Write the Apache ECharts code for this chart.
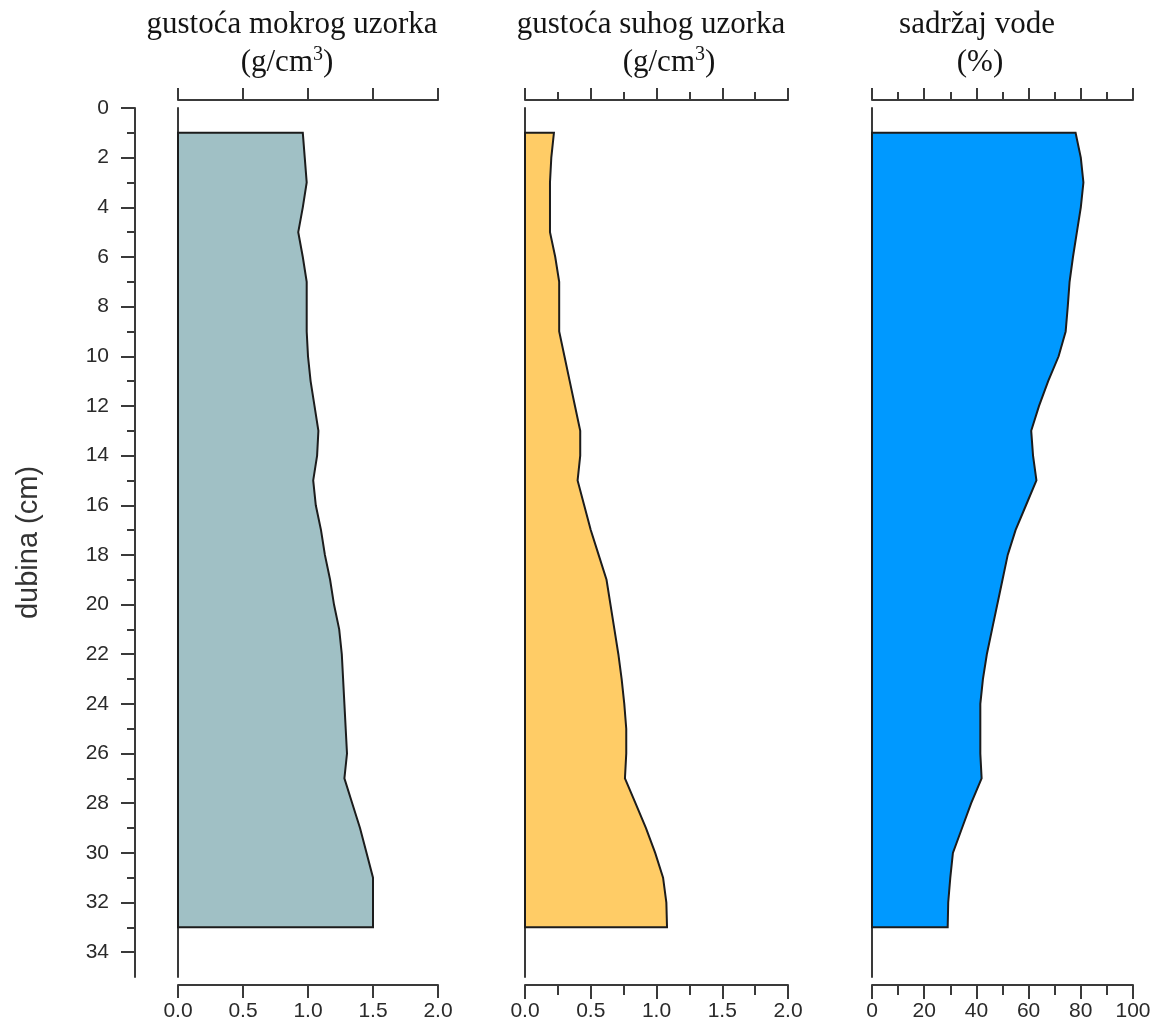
<!DOCTYPE html>
<html><head><meta charset="utf-8">
<script src="https://cdn.jsdelivr.net/npm/echarts@6/dist/echarts.min.js"></script>
<style>html,body{margin:0;padding:0;background:#fff}#c{width:1159px;height:1028px}</style>
</head><body><div id="c"></div>
<script>
// depth of each sample (cm)
const depth = [1,2,3,4,5,6,7,8,9,10,11,12,13,14,15,16,17,18,19,20,21,22,23,24,25,26,27,28,29,30,31,32,33];
// wet sample density (g/cm3)
const wetDensity = [0.96,0.975,0.99,0.96,0.925,0.96,0.99,0.99,0.99,1.00,1.02,1.05,1.08,1.07,1.04,1.06,1.10,1.13,1.17,1.20,1.24,1.26,1.27,1.28,1.29,1.30,1.28,1.34,1.40,1.45,1.50,1.50,1.50];
// dry sample density (g/cm3)
const dryDensity = [0.22,0.20,0.19,0.19,0.19,0.23,0.26,0.26,0.26,0.30,0.34,0.38,0.42,0.42,0.40,0.45,0.50,0.56,0.62,0.65,0.68,0.71,0.735,0.755,0.77,0.77,0.76,0.84,0.92,0.99,1.05,1.075,1.08];
// water content (%)
const waterContent = [78,80,81,80,78.5,77,75.7,75,74.2,71.5,67.5,64,61,61.7,63,59,55,52,50,48,46,44,42.5,41.5,41.5,41.5,42,38,34.5,31,30,29.2,29];
// depth axis ticks
const depthMajorTicks = [0,2,4,6,8,10,12,14,16,18,20,22,24,26,28,30,32,34];
const depthMinorTicks = [1,3,5,7,9,11,13,15,17,19,21,23,25,27,29,31,33];

const AX = '#3a3a3a';
const LBL = '#2a2a2a';
const sans = '"Liberation Sans", Arial, sans-serif';
const serif = '"Liberation Serif", "Times New Roman", serif';

const chart = echarts.init(document.getElementById('c'));

const grids = [
  {left: 178, top: 108, width: 260, height: 869},
  {left: 525, top: 108, width: 263, height: 869},
  {left: 872, top: 108, width: 261, height: 869}
];

function xPair(gi, max, interval, minorSplit, fmt, botLen, botMinor, topLen, topMinor) {
  const line = {show: true, onZero: false, lineStyle: {color: AX, width: 2}};
  const base = {gridIndex: gi, type: 'value', min: 0, max: max, interval: interval, splitLine: {show: false}};
  return [
    Object.assign({}, base, {
      position: 'bottom', offset: 8, axisLine: line,
      axisTick: {show: true, length: botLen, lineStyle: {color: AX, width: 2}},
      minorTick: {show: minorSplit > 0, splitNumber: minorSplit || 5, length: botMinor, lineStyle: {color: AX, width: 2}},
      axisLabel: {show: true, fontSize: 21, fontFamily: sans, color: LBL, margin: 16, formatter: fmt}
    }),
    Object.assign({}, base, {
      position: 'top', offset: 8, axisLine: line,
      axisTick: {show: true, length: topLen, lineStyle: {color: AX, width: 2}},
      minorTick: {show: minorSplit > 0, splitNumber: minorSplit || 5, length: topMinor, lineStyle: {color: AX, width: 2}},
      axisLabel: {show: false}
    })
  ];
}

const xAxes = [].concat(
  xPair(0, 2, 0.5, 0, v => v.toFixed(1), 13, 0, 12, 0),
  xPair(1, 2, 0.5, 2, v => v.toFixed(1), 14, 10, 12, 8),
  xPair(2, 100, 20, 2, v => String(v), 14, 10, 12, 8)
);

function panelY(gi) {
  return {gridIndex: gi, type: 'value', inverse: true, min: 0, max: 35, position: 'left', offset: 0,
    axisLine: {show: true, onZero: false, lineStyle: {color: AX, width: 2}}, axisTick: {show: false}, axisLabel: {show: false}, splitLine: {show: false}};
}

const yAxes = [
  panelY(0),
  {gridIndex: 0, type: 'value', inverse: true, min: 0, max: 35, position: 'left', offset: 43,
    axisLine: {show: true, onZero: false, lineStyle: {color: AX, width: 2}},
    axisTick: {show: true, length: 14, customValues: depthMajorTicks, lineStyle: {color: AX, width: 2}},
    axisLabel: {show: true, customValues: depthMajorTicks, fontSize: 21, fontFamily: sans, color: LBL, margin: 26},
    splitLine: {show: false},
    name: 'dubina (cm)', nameLocation: 'middle', nameGap: 92,
    nameTextStyle: {fontSize: 29, fontFamily: sans, color: '#333'}},
  {gridIndex: 0, type: 'value', inverse: true, min: 0, max: 35, position: 'left', offset: 43,
    axisLine: {show: false, onZero: false},
    axisTick: {show: true, length: 8, customValues: depthMinorTicks, lineStyle: {color: AX, width: 2}},
    axisLabel: {show: false}, splitLine: {show: false}},
  panelY(1),
  panelY(2)
];

function profile(xi, yi, vals, color) {
  return {
    type: 'custom', coordinateSystem: 'cartesian2d', xAxisIndex: xi, yAxisIndex: yi, z: 1,
    data: depth.map((d, i) => [vals[i], d]),
    renderItem: function (params, api) {
      if (params.dataIndex !== 0) return null;
      const pts = [api.coord([0, depth[0]])];
      for (let i = 0; i < depth.length; i++) pts.push(api.coord([vals[i], depth[i]]));
      pts.push(api.coord([0, depth[depth.length - 1]]));
      return {type: 'polygon', shape: {points: pts},
        style: {fill: color, stroke: '#1c1c1c', lineWidth: 2, lineJoin: 'miter'}};
    }
  };
}

function titleText(x, y, text) {
  return {type: 'text', x: x, y: y, z: 10,
    style: {text: text, align: 'center', verticalAlign: 'middle', fill: '#141414',
      font: '31px ' + serif,
      rich: {
        n: {fontSize: 31, fontFamily: serif, color: '#141414', lineHeight: 36},
        s: {fontSize: 20, fontFamily: serif, color: '#141414', verticalAlign: 'top', lineHeight: 36}
      }}};
}

chart.setOption({
  animation: false,
  backgroundColor: '#fff',
  grid: grids,
  xAxis: xAxes,
  yAxis: yAxes,
  series: [
    profile(0, 0, wetDensity, '#A0C0C5'),
    profile(2, 3, dryDensity, '#FFCC66'),
    profile(4, 4, waterContent, '#0099FF')
  ],
  graphic: [
    titleText(292, 25, 'gustoća mokrog uzorka'),
    titleText(287, 63, '{n|(g/cm}{s|3}{n|)}'),
    titleText(651, 25, 'gustoća suhog uzorka'),
    titleText(669, 63, '{n|(g/cm}{s|3}{n|)}'),
    titleText(977, 25, 'sadržaj vode'),
    titleText(980, 63, '(%)')
  ]
});
</script>
</body></html>
